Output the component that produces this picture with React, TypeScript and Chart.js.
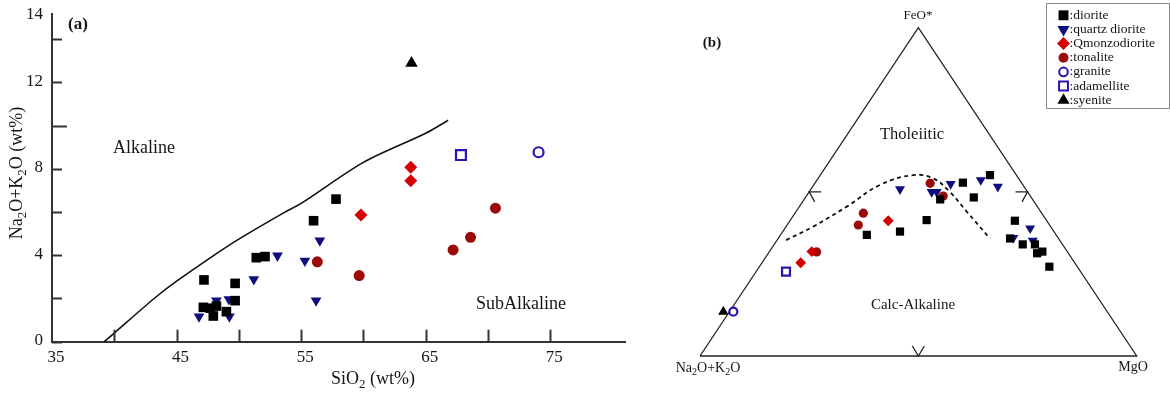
import React, { useEffect, useRef } from 'react';
import { Chart, registerables } from 'chart.js';
import { drawPoint } from 'chart.js/helpers';

Chart.register(...registerables);

// ---------- shared ----------
const groupNames = ['diorite', 'quartz diorite', 'Qmonzodiorite', 'tonalite', 'granite', 'adamellite', 'syenite'];

// ---------- panel (a): TAS  [SiO2 wt%, Na2O+K2O wt%] ----------
const tasDiorite = [
  [47.2, 2.86], [49.7, 2.7], [51.4, 3.89], [52.1, 3.94], [49.7, 1.9], [47.15, 1.59],
  [47.7, 1.55], [48.2, 1.65], [47.95, 1.19], [49.0, 1.39], [56.0, 5.6], [57.8, 6.6],
];
const tasQuartzDiorite = [
  [46.8, 1.16], [48.2, 1.9], [49.2, 1.96], [49.24, 1.16], [51.2, 2.89], [53.1, 3.98],
  [55.3, 3.74], [56.5, 4.68], [56.2, 1.9],
];
const tasQmonzodiorite = [[59.8, 5.87], [63.8, 8.07], [63.8, 7.45]];
const tasTonalite = [[56.3, 3.7], [59.66, 3.06], [67.2, 4.25], [68.6, 4.83], [70.6, 6.18]];
const tasGranite = [[74.06, 8.77]];
const tasAdamellite = [[67.83, 8.64]];
const tasSyenite = [[63.86, 12.89]];
// Alkaline / SubAlkaline boundary
const tasBoundary = [
  [39.2, 0], [40, 0.4], [43.2, 2.0], [45, 2.8], [48, 4.0], [50, 4.75],
  [53.7, 6.0], [55, 6.4], [60, 8.3], [65, 9.65], [66.8, 10.25],
];
const tasXTicks = [40, 45, 50, 55, 60, 65, 70, 75];
const tasXLabels = [35, 45, 55, 65, 75];
const tasYTicks = [0, 2, 4, 6, 8, 10, 12, 14];
const tasYLabels = [0, 4, 8, 12, 14];
const tasXRange = [35, 81];
const tasYRange = [0, 15.17];

// ---------- panel (b): AFM, projected triangle coordinates ----------
// x: 0 = Na2O+K2O corner, 100 = MgO corner; y: 0 = base, 100 = FeO* apex
const afmDiorite = [
  [38.2, 36.9], [45.8, 37.9], [51.9, 41.4], [55.0, 47.7], [60.2, 52.8], [62.7, 48.3],
  [66.4, 55.1], [72.1, 41.2], [71.0, 35.8], [73.9, 34.0], [76.7, 34.0], [77.2, 31.3],
  [78.4, 31.8], [80.0, 27.2],
];
const afmQuartzDiorite = [
  [45.8, 50.8], [53.05, 50.0], [54.2, 50.0], [57.4, 52.4], [64.3, 53.6], [68.2, 51.6],
  [75.6, 38.9], [71.75, 36.0], [76.2, 35.1],
];
const afmQmonzodiorite = [[23.06, 28.4], [25.6, 31.8], [43.1, 41.2]];
const afmTonalite = [[26.7, 31.7], [37.4, 43.5], [36.25, 39.9], [52.7, 52.6], [55.7, 48.7]];
const afmGranite = [[7.63, 13.5]];
const afmAdamellite = [[19.7, 25.7]];
const afmSyenite = [[5.34, 13.5]];
// Tholeiitic / Calc-Alkaline divide
const afmDivide = [
  [19.7, 35.3], [25.9, 39.4], [33.6, 45.5], [41.2, 52.1], [48.8, 55.1], [53.4, 54.1],
  [57.2, 50.0], [61.1, 43.95], [66.4, 35.8],
];
const afmFrame = [[0, 0], [50, 100], [100, 0], [0, 0]];

// ---------- styles ----------
const STY = [
  { shape: 'rect', rot: 0, color: '#000000', fill: true, rA: 6.8, rB: 5.8, rL: 7 },
  { shape: 'triangle', rot: 180, color: '#0e0e7e', fill: true, rA: 6.2, rB: 5.8, rL: 7 },
  { shape: 'rectRot', rot: 0, color: '#d40000', fill: true, rA: 6.5, rB: 5.4, rL: 6.5 },
  { shape: 'circle', rot: 0, color: '#9c0a0a', fill: true, rA: 5.5, rB: 4.6, rL: 5 },
  { shape: 'circle', rot: 0, color: '#2a14b0', fill: false, rA: 5, rB: 4, rL: 4.3 },
  { shape: 'rect', rot: 0, color: '#2a14b0', fill: false, rA: 7, rB: 5.6, rL: 6.3 },
  { shape: 'triangle', rot: 0, color: '#000000', fill: true, rA: 7.2, rB: 6, rL: 7 },
];

const FONT = '"Liberation Serif", "Times New Roman", serif';

type Part = [string, boolean];
function drawRich(ctx: CanvasRenderingContext2D, parts: Part[], x: number, y: number, size: number,
  align: 'left' | 'center' | 'right' = 'center', weight = 'normal') {
  const f = (s: number) => `${weight} ${s}px ${FONT}`;
  let total = 0;
  const widths = parts.map(([t, sub]) => {
    ctx.font = f(sub ? size * 0.72 : size);
    const w = ctx.measureText(t).width;
    total += w;
    return w;
  });
  let cx = align === 'left' ? x : align === 'right' ? x - total : x - total / 2;
  ctx.textBaseline = 'middle';
  ctx.textAlign = 'left';
  parts.forEach(([t, sub], i) => {
    ctx.font = f(sub ? size * 0.72 : size);
    ctx.fillText(t, cx, sub ? y + size * 0.3 : y);
    cx += widths[i];
  });
}

const toXY = (arr: number[][]) => arr.map(([x, y]) => ({ x, y }));

function groupDatasets(groups: number[][][], key: 'rA' | 'rB') {
  return groups.map((pts, i) => {
    const s = STY[i];
    return {
      label: groupNames[i],
      data: toXY(pts),
      pointStyle: s.shape,
      pointRotation: s.rot,
      pointRadius: s[key],
      pointHoverRadius: s[key],
      backgroundColor: s.fill ? s.color : '#ffffff',
      borderColor: s.color,
      borderWidth: s.fill ? 0 : 2.2,
      showLine: false,
      clip: false,
    } as any;
  });
}

export default function App() {
  const refA = useRef<HTMLCanvasElement>(null);
  const refB = useRef<HTMLCanvasElement>(null);

  useEffect(() => {
    const ink = '#151515';
    // ---------- chart (a) ----------
    const pluginA = {
      id: 'tasDecor',
      afterDraw(chart: any) {
        const { ctx, chartArea: ca, scales: { x, y } } = chart;
        ctx.save();
        ctx.strokeStyle = '#333';
        ctx.lineWidth = 2;
        tasYTicks.forEach((v) => {
          const py = Math.round(y.getPixelForValue(v)) + 0.5;
          const len = v === 10 ? 15 : 10;
          ctx.beginPath(); ctx.moveTo(ca.left, py); ctx.lineTo(ca.left + len, py); ctx.stroke();
        });
        tasXTicks.forEach((v) => {
          const px = Math.round(x.getPixelForValue(v)) + 0.5;
          ctx.beginPath(); ctx.moveTo(px, ca.bottom); ctx.lineTo(px, ca.bottom - 12); ctx.stroke();
        });
        ctx.fillStyle = ink;
        ctx.font = `17px ${FONT}`;
        ctx.textBaseline = 'middle';
        ctx.textAlign = 'right';
        tasYLabels.forEach((v) => {
          const py = v === tasYLabels[tasYLabels.length - 1] ? ca.top + 1 : y.getPixelForValue(v) - 1;
          ctx.fillText(String(v), ca.left - 9, py);
        });
        ctx.textAlign = 'center';
        tasXLabels.forEach((v) => {
          ctx.fillText(String(v), x.getPixelForValue(v) + 4, ca.bottom + 16);
        });
        // titles
        drawRich(ctx, [['SiO', false], ['2', true], [' (wt%)', false]], 373, 379, 18, 'center');
        ctx.save();
        ctx.translate(17, 173);
        ctx.rotate(-Math.PI / 2);
        drawRich(ctx, [['Na', false], ['2', true], ['O+K', false], ['2', true], ['O (wt%)', false]], 0, 0, 18, 'center');
        ctx.restore();
        drawRich(ctx, [['(a)', false]], 68, 25, 17, 'left', 'bold');
        drawRich(ctx, [['Alkaline', false]], 144, 148, 18, 'center');
        drawRich(ctx, [['SubAlkaline', false]], 521, 304, 18, 'center');
        ctx.restore();
      },
    };

    const groupsA = [tasDiorite, tasQuartzDiorite, tasQmonzodiorite, tasTonalite, tasGranite, tasAdamellite, tasSyenite];
    const chartA = new Chart(refA.current!, {
      type: 'scatter',
      data: {
        datasets: [
          ...groupDatasets(groupsA, 'rA'),
          {
            label: 'boundary', data: toXY(tasBoundary), showLine: true, pointRadius: 0,
            borderColor: '#111', borderWidth: 1.6, tension: 0.3, fill: false, clip: false,
          } as any,
        ],
      },
      options: {
        animation: false, responsive: false, devicePixelRatio: 1,
        layout: { padding: { left: 52, top: 14, right: 35, bottom: 51.3 } },
        plugins: { legend: { display: false }, tooltip: { enabled: false } },
        scales: {
          x: {
            type: 'linear', min: tasXRange[0], max: tasXRange[1],
            grid: { display: false, drawTicks: false }, ticks: { display: false },
            border: { display: true, color: '#333', width: 2 },
          },
          y: {
            type: 'linear', min: tasYRange[0], max: tasYRange[1],
            grid: { display: false, drawTicks: false }, ticks: { display: false },
            border: { display: true, color: '#333', width: 2 },
          },
        },
      },
      plugins: [pluginA],
    } as any);

    // ---------- chart (b) ----------
    const pluginB = {
      id: 'afmDecor',
      afterDraw(chart: any) {
        const { ctx, scales: { x, y } } = chart;
        const P = (a: number, b: number) => [x.getPixelForValue(a), y.getPixelForValue(b)];
        ctx.save();
        ctx.strokeStyle = '#222';
        ctx.lineWidth = 1.3;
        // chevrons at mid-points of edges
        const [lx, ly] = P(25, 50);
        const [rx, ry] = P(75, 50);
        const [bx, by] = P(50, 0);
        ctx.beginPath();
        ctx.moveTo(lx + 12, ly); ctx.lineTo(lx, ly); ctx.lineTo(lx + 5.5, ly + 10);
        ctx.moveTo(rx - 12, ry); ctx.lineTo(rx, ry); ctx.lineTo(rx - 5.5, ry + 10);
        ctx.moveTo(bx - 6, by - 10); ctx.lineTo(bx, by); ctx.lineTo(bx + 6, by - 10);
        ctx.stroke();
        // labels
        ctx.fillStyle = ink;
        drawRich(ctx, [['(b)', false]], 52, 43, 15, 'center', 'bold');
        drawRich(ctx, [['FeO*', false]], 258, 16, 13, 'center');
        drawRich(ctx, [['Tholeiitic', false]], 252, 135, 16.5, 'center');
        drawRich(ctx, [['Calc-Alkaline', false]], 253, 305, 15, 'center');
        drawRich(ctx, [['Na', false], ['2', true], ['O+K', false], ['2', true], ['O', false]], 48, 368, 14, 'center');
        drawRich(ctx, [['MgO', false]], 473, 367, 14, 'center');
        // legend
        ctx.strokeStyle = '#8a8a8a';
        ctx.lineWidth = 1;
        ctx.strokeRect(386.5, 3.5, 123, 105);
        groupNames.forEach((name, i) => {
          const s = STY[i];
          const yy = 15.3 + i * 14.15;
          ctx.fillStyle = s.fill ? s.color : '#ffffff';
          ctx.strokeStyle = s.color;
          ctx.lineWidth = s.fill ? 0 : 2;
          drawPoint(ctx, { pointStyle: s.shape, rotation: s.rot, radius: s.rL, borderWidth: s.fill ? 0 : 2 } as any, 403.5, yy);
          ctx.fillStyle = ink;
          drawRich(ctx, [[':' + name, false]], 409.5, yy, 13.5, 'left');
        });
        ctx.restore();
      },
    };

    const groupsB = [afmDiorite, afmQuartzDiorite, afmQmonzodiorite, afmTonalite, afmGranite, afmAdamellite, afmSyenite];
    const chartB = new Chart(refB.current!, {
      type: 'scatter',
      data: {
        datasets: [
          ...groupDatasets(groupsB, 'rB'),
          {
            label: 'divide', data: toXY(afmDivide), showLine: true, pointRadius: 0,
            borderColor: '#111', borderWidth: 1.8, borderDash: [4, 3.5], tension: 0.4, fill: false, clip: false,
          } as any,
          {
            label: 'frame', data: toXY(afmFrame), showLine: true, pointRadius: 0,
            borderColor: '#222', borderWidth: 1.3, tension: 0, fill: false, clip: false,
          } as any,
        ],
      },
      options: {
        animation: false, responsive: false, devicePixelRatio: 1,
        layout: { padding: { left: 40, top: 27.7, right: 34.3, bottom: 37 } },
        plugins: { legend: { display: false }, tooltip: { enabled: false } },
        scales: {
          x: { type: 'linear', min: 0, max: 100, display: false },
          y: { type: 'linear', min: 0, max: 100, display: false },
        },
      },
      plugins: [pluginB],
    } as any);

    return () => { chartA.destroy(); chartB.destroy(); };
  }, []);

  return (
    <div style={{ position: 'fixed', left: 0, top: 0, width: 1171, height: 393, background: '#fff' }}>
      <canvas ref={refA} width={660} height={393} style={{ position: 'absolute', left: 0, top: 0 }} />
      <canvas ref={refB} width={511} height={393} style={{ position: 'absolute', left: 660, top: 0 }} />
    </div>
  );
}
